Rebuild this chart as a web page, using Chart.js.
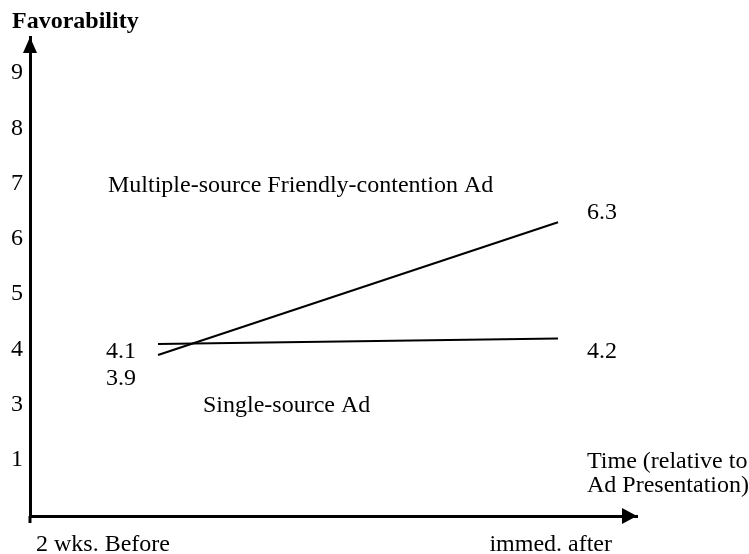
<!DOCTYPE html>
<html lang="en">

<head>
    <meta charset="UTF-8">
    <title>Favorability</title>
    <script src="https://cdn.jsdelivr.net/npm/chart.js"></script>
    <style>
        body { margin: 0; background: #fff; }
    </style>
</head>

<body>
    <canvas id="myChart" width="749" height="554"></canvas>
    <script>
        const timePoints = [0, 1];
        const timeLabels = ['2 wks. Before', 'immed. after'];
        const seriesNames = ['Multiple-source Friendly-contention Ad', 'Single-source Ad'];
        const multipleSource = [3.9, 6.3];
        const singleSource = [4.1, 4.2];
        const yTickValues = [2, 3, 4, 5, 6, 7, 8, 9];
        const yTickLabels = ['1', '3', '4', '5', '6', '7', '8', '9'];
        const yTitle = 'Favorability';
        const xTitle = ['Time (relative to', 'Ad Presentation)'];

        const FUENTE = '"Liberation Serif", "Times New Roman", serif';

        /* Plugin que dibuja las flechas de los ejes y los textos */
        const textosPlugin = {
            id: 'textos',
            afterDraw(chart, args, opts) {
                const ctx = chart.ctx;
                const area = chart.chartArea;
                const x = chart.scales.x;
                const y = chart.scales.y;
                ctx.save();
                ctx.fillStyle = '#000';
                ctx.strokeStyle = '#000';

                // eje y un poco por debajo del eje x
                ctx.lineWidth = 3;
                ctx.beginPath();
                ctx.moveTo(area.left, area.bottom);
                ctx.lineTo(area.left, area.bottom + 7);
                ctx.stroke();

                // flechas
                ctx.beginPath();
                ctx.moveTo(area.left, area.top);
                ctx.lineTo(area.left - 7, area.top + 16);
                ctx.lineTo(area.left + 7, area.top + 16);
                ctx.closePath();
                ctx.fill();
                ctx.beginPath();
                ctx.moveTo(area.right, area.bottom);
                ctx.lineTo(area.right - 15, area.bottom - 8);
                ctx.lineTo(area.right - 15, area.bottom + 8);
                ctx.closePath();
                ctx.fill();

                ctx.textBaseline = 'alphabetic';
                ctx.textAlign = 'left';
                ctx.font = 'bold 24px ' + FUENTE;
                ctx.fillText(yTitle, 12, 28);

                ctx.font = '24px ' + FUENTE;
                const x0 = x.getPixelForValue(timePoints[0]);
                const x1 = x.getPixelForValue(timePoints[1]);

                // nombres de las series
                ctx.fillText(seriesNames[0], x0 - 50, y.getPixelForValue(7) + 8);
                ctx.fillText(seriesNames[1], x0 + 45, y.getPixelForValue(3) + 7);

                // titulo del eje x
                ctx.fillText(xTitle[0], x1 + 29, y.getPixelForValue(2) + 8);
                ctx.fillText(xTitle[1], x1 + 29, y.getPixelForValue(2) + 32);

                // etiquetas del eje x
                ctx.fillText(timeLabels[0], area.left + 6, area.bottom + 35);
                ctx.textAlign = 'right';
                ctx.fillText(timeLabels[1], area.right - 25, area.bottom + 35);

                // valores junto a cada punto
                chart.data.datasets.forEach((ds, i) => {
                    const meta = chart.getDatasetMeta(i);
                    meta.data.forEach((pt, j) => {
                        const dy = opts.offsets[i][j];
                        ctx.textAlign = j === 0 ? 'right' : 'left';
                        const px = j === 0 ? pt.x - 22 : pt.x + 29;
                        ctx.fillText(ds.data[j].y.toFixed(1), px, pt.y + dy);
                    });
                });
                ctx.restore();
            }
        };

        /* Funcion que prepara el objeto de configuracion */
        function confGrafica() {
            const puntos = (valores) => timePoints.map((t, i) => ({ x: t, y: valores[i] }));
            const config = {
                type: 'line',
                data: {
                    datasets: [{
                        label: seriesNames[0],
                        data: puntos(multipleSource),
                        borderColor: '#000',
                        borderWidth: 2,
                        pointRadius: 0,
                        tension: 0
                    }, {
                        label: seriesNames[1],
                        data: puntos(singleSource),
                        borderColor: '#000',
                        borderWidth: 2,
                        pointRadius: 0,
                        tension: 0
                    }]
                },
                options: {
                    responsive: false,
                    animation: false,
                    layout: { padding: { top: 37, right: 112, bottom: 0, left: 0 } },
                    plugins: {
                        legend: { display: false },
                        tooltip: { enabled: false },
                        textos: { offsets: [[30, -3], [14, 20]] }
                    },
                    scales: {
                        x: {
                            type: 'linear',
                            min: -0.32,
                            max: 1.1975,
                            grid: { display: false, drawTicks: false },
                            border: { display: true, color: '#000', width: 3 },
                            ticks: { display: false },
                            afterFit: (scale) => { scale.height = 38; }
                        },
                        y: {
                            type: 'linear',
                            min: 0.99,
                            max: 9.65,
                            grid: { display: false, drawTicks: false },
                            border: { display: true, color: '#000', width: 3 },
                            afterBuildTicks: (scale) => {
                                scale.ticks = yTickValues.map((v) => ({ value: v }));
                            },
                            ticks: {
                                padding: 7,
                                color: '#000',
                                font: { family: FUENTE, size: 24 },
                                callback: (value) => yTickLabels[yTickValues.indexOf(value)]
                            },
                            afterFit: (scale) => { scale.width = 30; }
                        }
                    }
                },
                plugins: [textosPlugin]
            };
            return config;
        }

        function renderGrafica() {
            const chartDOM = document.getElementById('myChart');
            new Chart(chartDOM, confGrafica());
        }
        renderGrafica();
    </script>
</body>

</html>
